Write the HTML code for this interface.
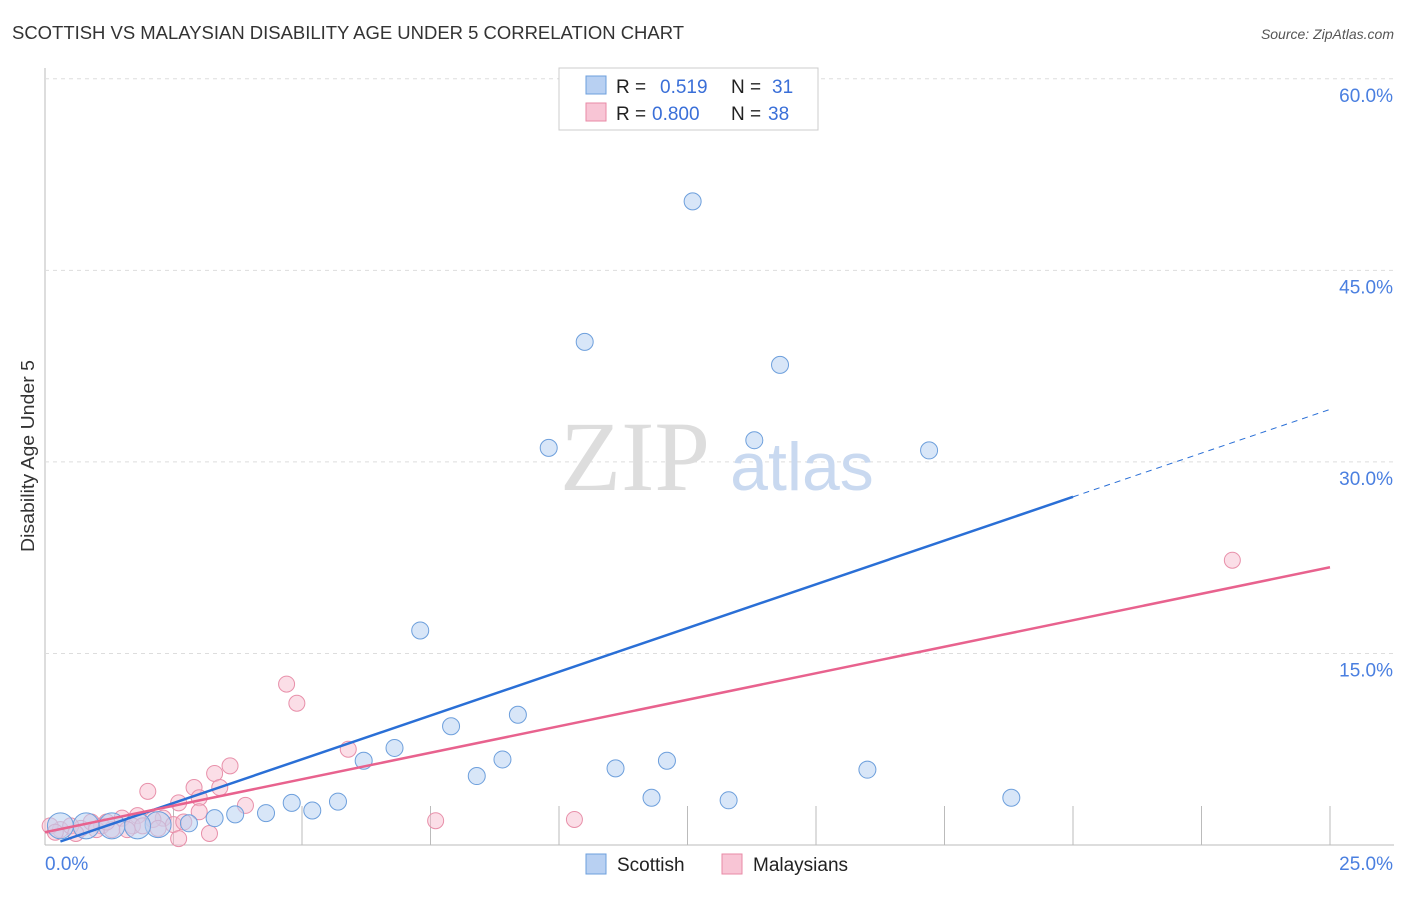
<!DOCTYPE html>
<html><head><meta charset="utf-8"><style>
body{margin:0;background:#fff;font-family:"Liberation Sans",sans-serif}
svg{font-family:"Liberation Sans",sans-serif}
</style></head><body>
<svg id="chart" width="1406" height="892" xmlns="http://www.w3.org/2000/svg">
<text x="12" y="39" font-size="18" fill="#333" textLength="672" lengthAdjust="spacingAndGlyphs">SCOTTISH VS MALAYSIAN DISABILITY AGE UNDER 5 CORRELATION CHART</text>
<text x="1394" y="39" font-size="14" fill="#555" font-style="italic" text-anchor="end">Source: ZipAtlas.com</text>
<text x="0" y="0" transform="translate(34,456) rotate(-90)" font-size="18" fill="#333" text-anchor="middle" textLength="192" lengthAdjust="spacingAndGlyphs">Disability Age Under 5</text>
<g id="grid"></g>
<text x="635" y="490" font-size="100" fill="#ddd" font-family="Liberation Serif, serif" text-anchor="middle">ZIP</text>
<text x="802" y="490" font-size="68" fill="#c9d9f0" text-anchor="middle">atlas</text>
<g id="marks"></g>
<g>
<rect x="559" y="68" width="259" height="62" fill="#fff" stroke="#ccc"/>
<rect x="586" y="76" width="20" height="18" fill="#b8d0f2" stroke="#6d9fdc"/>
<rect x="586" y="103" width="20" height="18" fill="#f8c5d5" stroke="#e88aa6"/>
<text x="616" y="93" font-size="19" fill="#222">R = </text><text x="660" y="93" font-size="19" fill="#3a6fd8">0.519</text>
<text x="731" y="93" font-size="19" fill="#222">N = </text><text x="772" y="93" font-size="19" fill="#3a6fd8">31</text>
<text x="616" y="120" font-size="19" fill="#222">R = </text><text x="652" y="120" font-size="19" fill="#3a6fd8">0.800</text>
<text x="731" y="120" font-size="19" fill="#222">N = </text><text x="768" y="120" font-size="19" fill="#3a6fd8">38</text>
</g>
<g>
<rect x="586" y="854" width="20" height="20" fill="#b8d0f2" stroke="#6d9fdc"/>
<text x="617" y="871" font-size="19" fill="#222">Scottish</text>
<rect x="722" y="854" width="20" height="20" fill="#f8c5d5" stroke="#e88aa6"/>
<text x="753" y="871" font-size="19" fill="#222">Malaysians</text>
</g>
</svg>
<script>
const yTicks=[15,30,45,60];
const xTickLabels=["0.0%","25.0%"];
const scotX=[12.6,10.5,14.3,9.8,13.8,17.2,7.3,9.2,7.9,6.8,6.2,8.9,8.4,11.1,12.1,16.0,11.8,13.3,18.8,5.7,5.2,4.8,4.3,3.7,3.3,2.8,2.2,1.8,1.3,0.8,0.3];
const scotY=[50.4,39.4,37.6,31.1,31.7,30.9,16.8,10.2,9.3,7.6,6.6,6.7,5.4,6.0,6.6,5.9,3.7,3.5,3.7,3.4,2.7,3.3,2.5,2.4,2.1,1.7,1.6,1.5,1.5,1.5,1.5];
const malX=[23.1,4.7,4.9,5.9,3.6,3.3,2.0,2.9,3.4,3.0,3.9,7.6,10.3,2.6,2.3,2.5,3.2,2.6,1.8,1.5,1.1,0.7,0.3,0.1,0.9,1.7,2.1,1.3,0.5,3.0,1.9,2.2,1.6,1.0,0.2,0.6,1.2,2.7];
const malY=[22.3,12.6,11.1,7.5,6.2,5.6,4.2,4.5,4.5,3.7,3.1,1.9,2.0,3.3,2.1,1.6,0.9,0.5,2.3,2.1,1.5,1.3,1.2,1.5,1.8,1.5,2.0,1.2,1.5,2.6,1.5,1.3,1.2,1.2,1.0,0.9,1.8,1.8];
const scotBig=[0,0,0,0,0,0,0,0,0,0,0,0,0,0,0,0,0,0,0,0,0,0,0,0,0,0,1,1,1,1,1];
const scotLine=[1.37,-0.137];
const malLine=[0.83,1.0];
const X=v=>45+v*51.4, Y=v=>845-v*12.77;
const NS="http://www.w3.org/2000/svg";
function mk(t,a,p){const e=document.createElementNS(NS,t);for(const k in a)e.setAttribute(k,a[k]);p.appendChild(e);return e;}
const grid=document.getElementById('grid'), marks=document.getElementById('marks');
let ax=mk('line',{x1:45,y1:68,x2:45,y2:845,stroke:'#bbb'},grid);

let bx=mk('line',{x1:45,y1:845,x2:1394,y2:845,stroke:'#bbb'},grid);

for(let i=1;i<=10;i++){const l=mk('line',{x1:X(i*2.5),x2:X(i*2.5),y1:806,y2:845,stroke:'#bbb'},grid);
}
yTicks.forEach(v=>{const l=mk('line',{x1:45,x2:1394,y1:Y(v),y2:Y(v),stroke:'#ddd','stroke-dasharray':'4,4'},grid);

const t=mk('text',{x:1393,y:Y(v)+23,'font-size':19,fill:'#4a7fe0','text-anchor':'end'},grid);t.textContent=v.toFixed(1)+'%';
});
xTickLabels.forEach((s,i)=>{const t=mk('text',{x:i?1393:45,y:870,'font-size':19,fill:'#4a7fe0','text-anchor':i?'end':'start'},grid);t.textContent=s;
});
malX.forEach((x,i)=>{const c=mk('circle',{cx:X(x),cy:Y(malY[i]),r:8,fill:'rgba(248,190,208,0.5)',stroke:'#e890aa','stroke-width':1},marks);
});
scotX.forEach((x,i)=>{const c=mk('circle',{cx:X(x),cy:Y(scotY[i]),r:scotBig[i]?13:8.5,fill:'rgba(184,210,242,0.55)',stroke:'#6d9fdc','stroke-width':1},marks);
});
const f=(L,x)=>L[0]*x+L[1];
let s1=mk('line',{x1:X(0.3),y1:Y(f(scotLine,0.3)),x2:X(20),y2:Y(f(scotLine,20)),stroke:'#2a6fd6','stroke-width':2.5},marks);

let s2=mk('line',{x1:X(20),y1:Y(f(scotLine,20)),x2:X(25),y2:Y(f(scotLine,25)),stroke:'#2a6fd6','stroke-width':1,'stroke-dasharray':'6,5'},marks);

let m1=mk('line',{x1:X(0),y1:Y(f(malLine,0)),x2:X(25),y2:Y(f(malLine,25)),stroke:'#e8628e','stroke-width':2.5},marks);

</script>
</body></html>
